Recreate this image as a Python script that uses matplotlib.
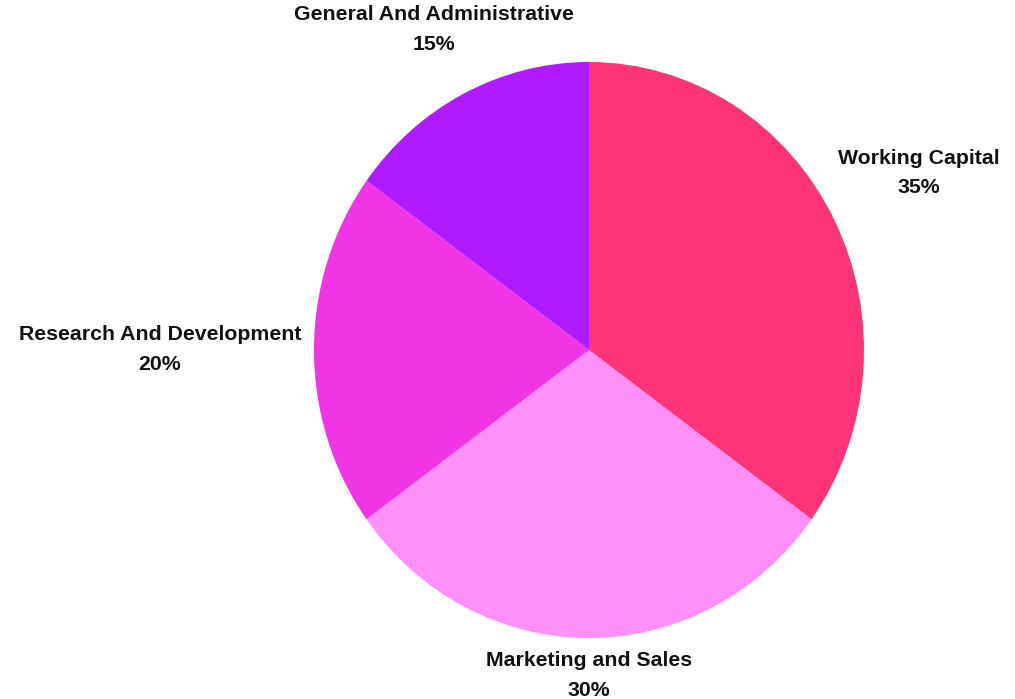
import matplotlib
matplotlib.use("Agg")
import matplotlib.pyplot as plt

# slice data, clockwise from 12 o'clock
labels = ["Working Capital", "Marketing and Sales", "Research And Development", "General And Administrative"]
shares = [35, 30, 20, 15]
colors = ["#ff3378", "#ff8ff9", "#f235e4", "#b01aff"]

# label centres in pixels (x, y of first line)
label_pos = [(919, 158), (589, 660), (160, 334), (434, 15)]

W, H = 1015, 699
fig = plt.figure(figsize=(W / 100, H / 100), dpi=100)
plt.rcParams['font.family'] = ['Liberation Sans', 'DejaVu Sans']

# pie is slightly taller than wide in the reference
cx, cy, rx, ry = 589, 350, 275, 288
ax = fig.add_axes([(cx - rx) / W, (H - cy - ry) / H, 2 * rx / W, 2 * ry / H])
ax.pie(shares, colors=colors, startangle=90, counterclock=False,
       wedgeprops=dict(linewidth=0))
ax.set_aspect('auto')
ax.set_xlim(-1, 1)
ax.set_ylim(-1, 1)
ax.axis('off')

for name, val, (px, py) in zip(labels, shares, label_pos):
    fig.text(px / W, 1 - py / H, name, ha='center', va='center',
             fontsize=15.3, fontweight='bold', color='#111111')
    fig.text(px / W, 1 - (py + 30) / H, f"{val}%", ha='center', va='center',
             fontsize=15.3, fontweight='bold', color='#111111')

fig.savefig("out.png", dpi=100)
